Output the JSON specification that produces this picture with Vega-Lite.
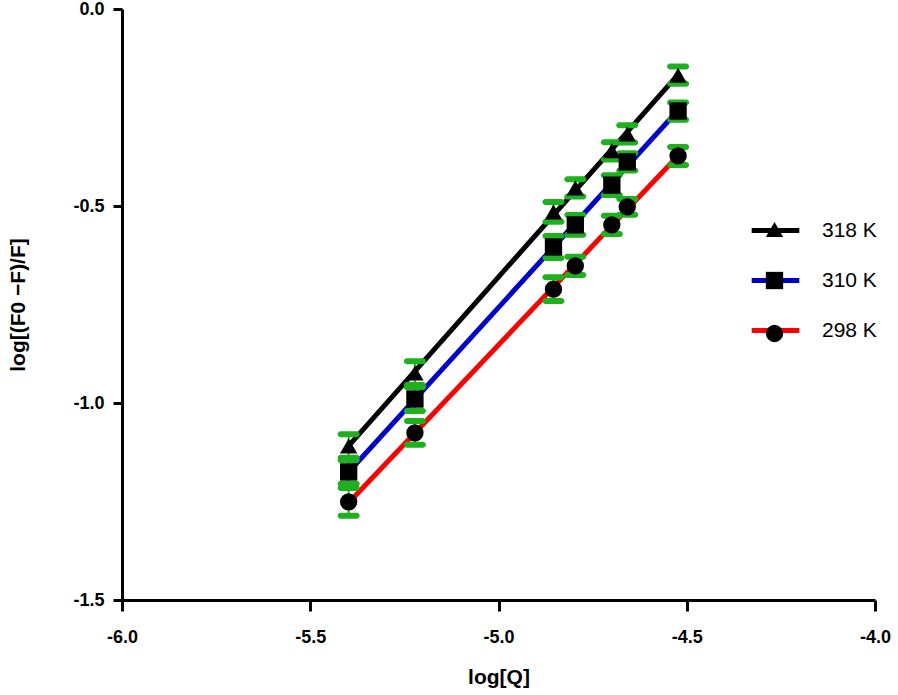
{
  "$schema": "https://vega.github.io/schema/vega-lite/v6.json",
  "width": 753,
  "height": 591,
  "autosize": {"type": "none"},
  "padding": {"left": 122, "top": 9, "right": 23, "bottom": 95},
  "background": "white",
  "config": {
    "view": {"stroke": null},
    "locale": {"number": {"decimal": ".", "thousands": ",", "grouping": [3], "currency": ["$", ""], "minus": "-"}},
    "axis": {
      "grid": false,
      "domainWidth": 3,
      "domainColor": "black",
      "tickWidth": 3,
      "tickColor": "black",
      "tickSize": 9,
      "labelFlush": false,
      "labelFont": "Liberation Sans",
      "labelFontWeight": "bold",
      "labelFontSize": 18,
      "labelColor": "black",
      "titleFont": "Liberation Sans",
      "titleFontSize": 21,
      "titleFontWeight": "bold",
      "titleColor": "black"
    },
    "axisX": {"labelPadding": 17, "titlePadding": 20, "tickSize": 11},
    "axisY": {"labelPadding": 9, "titlePadding": 44}
  },
  "data": {
    "values": [
      {"series": "318 K", "logQ": -5.398, "y": -1.109, "lo": -1.139, "hi": -1.079},
      {"series": "318 K", "logQ": -5.222, "y": -0.924, "lo": -0.954, "hi": -0.894},
      {"series": "318 K", "logQ": -4.854, "y": -0.515, "lo": -0.540, "hi": -0.490},
      {"series": "318 K", "logQ": -4.796, "y": -0.454, "lo": -0.476, "hi": -0.432},
      {"series": "318 K", "logQ": -4.699, "y": -0.360, "lo": -0.382, "hi": -0.338},
      {"series": "318 K", "logQ": -4.658, "y": -0.317, "lo": -0.339, "hi": -0.295},
      {"series": "318 K", "logQ": -4.523, "y": -0.168, "lo": -0.190, "hi": -0.146},
      {"series": "310 K", "logQ": -5.398, "y": -1.175, "lo": -1.205, "hi": -1.145},
      {"series": "310 K", "logQ": -5.222, "y": -0.990, "lo": -1.020, "hi": -0.960},
      {"series": "310 K", "logQ": -4.854, "y": -0.604, "lo": -0.632, "hi": -0.576},
      {"series": "310 K", "logQ": -4.796, "y": -0.548, "lo": -0.573, "hi": -0.523},
      {"series": "310 K", "logQ": -4.699, "y": -0.447, "lo": -0.472, "hi": -0.422},
      {"series": "310 K", "logQ": -4.658, "y": -0.388, "lo": -0.410, "hi": -0.366},
      {"series": "310 K", "logQ": -4.523, "y": -0.259, "lo": -0.281, "hi": -0.237},
      {"series": "298 K", "logQ": -5.398, "y": -1.251, "lo": -1.286, "hi": -1.216},
      {"series": "298 K", "logQ": -5.222, "y": -1.076, "lo": -1.106, "hi": -1.046},
      {"series": "298 K", "logQ": -4.854, "y": -0.711, "lo": -0.741, "hi": -0.681},
      {"series": "298 K", "logQ": -4.796, "y": -0.652, "lo": -0.675, "hi": -0.629},
      {"series": "298 K", "logQ": -4.699, "y": -0.548, "lo": -0.571, "hi": -0.525},
      {"series": "298 K", "logQ": -4.658, "y": -0.502, "lo": -0.522, "hi": -0.482},
      {"series": "298 K", "logQ": -4.523, "y": -0.373, "lo": -0.396, "hi": -0.350}
    ]
  },
  "encoding": {
    "x": {
      "field": "logQ",
      "type": "quantitative",
      "title": "log[Q]",
      "scale": {"domain": [-6, -4], "nice": false, "zero": false},
      "axis": {"values": [-6, -5.5, -5, -4.5, -4], "format": ".1f"}
    }
  },
  "layer": [
    {
      "transform": [{"regression": "y", "on": "logQ", "groupby": ["series"]}],
      "mark": {"type": "line", "strokeWidth": 5, "strokeCap": "round"},
      "encoding": {
        "y": {
          "field": "y",
          "type": "quantitative",
          "title": "log[(F0 −F)/F]",
          "scale": {"domain": [-1.5, 0], "nice": false, "zero": false},
          "axis": {"values": [-1.5, -1, -0.5, 0], "format": ".1f"}
        },
        "color": {
          "field": "series",
          "type": "nominal",
          "scale": {"domain": ["318 K", "310 K", "298 K"], "range": ["#000000", "#0000CC", "#FF0000"]},
          "legend": {
            "title": null,
            "orient": "none",
            "legendX": 642,
            "legendY": 210,
            "padding": 0,
            "symbolType": "M-2.75,0H2.75",
            "symbolSize": 300,
            "symbolStrokeWidth": 5,
            "rowPadding": 28,
            "labelOffset": 35,
            "labelFont": "Liberation Sans",
            "labelFontSize": 21,
            "labelColor": "black"
          }
        }
      }
    },
    {
      "mark": {"type": "rule", "color": "#1DB11D", "strokeWidth": 2},
      "encoding": {
        "y": {"field": "lo", "type": "quantitative", "title": "log[(F0 −F)/F]"},
        "y2": {"field": "hi"}
      }
    },
    {
      "mark": {"type": "tick", "orient": "horizontal", "size": 22, "thickness": 6, "color": "#1DB11D", "cornerRadius": 3, "opacity": 1},
      "encoding": {
        "y": {"field": "lo", "type": "quantitative", "title": "log[(F0 −F)/F]"}
      }
    },
    {
      "mark": {"type": "tick", "orient": "horizontal", "size": 22, "thickness": 6, "color": "#1DB11D", "cornerRadius": 3, "opacity": 1},
      "encoding": {
        "y": {"field": "hi", "type": "quantitative", "title": "log[(F0 −F)/F]"}
      }
    },
    {
      "mark": {"type": "point", "filled": true, "color": "black", "size": 300, "opacity": 1},
      "encoding": {
        "y": {"field": "y", "type": "quantitative", "title": "log[(F0 −F)/F]"},
        "shape": {
          "field": "series",
          "type": "nominal",
          "sort": ["318 K", "310 K", "298 K"],
          "scale": {"range": ["triangle-up", "square", "circle"]},
          "legend": {
            "title": null,
            "orient": "none",
            "legendX": 642,
            "legendY": 210,
            "padding": 0,
            "symbolSize": 300,
            "symbolFillColor": "black",
            "symbolStrokeColor": "black",
            "rowPadding": 28,
            "labelOffset": 35,
            "labelFont": "Liberation Sans",
            "labelFontSize": 21,
            "labelExpr": "''"
          }
        }
      }
    }
  ]
}
